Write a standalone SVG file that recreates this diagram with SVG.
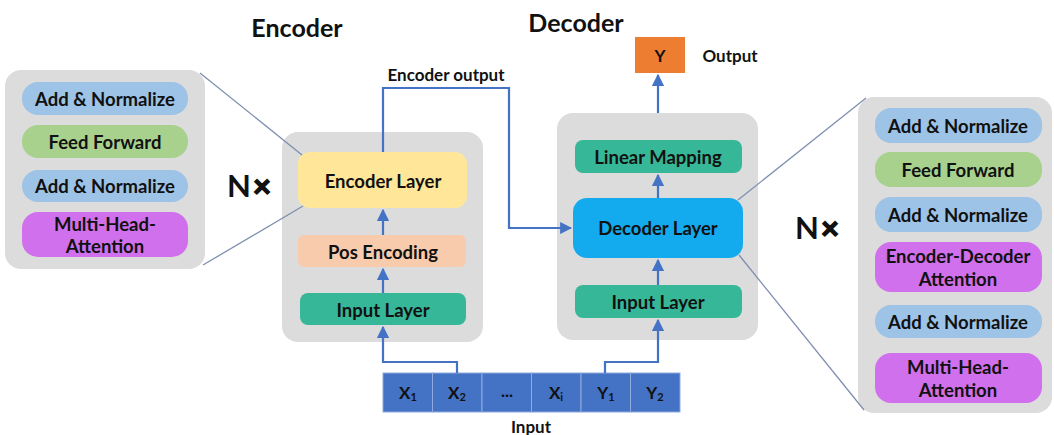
<svg xmlns="http://www.w3.org/2000/svg" width="1054" height="435" viewBox="0 0 1054 435">
<style>
text{font-family:Lato,"Open Sans","Liberation Sans",sans-serif;font-weight:bold;fill:#111111;text-anchor:middle;dominant-baseline:central}
.t{font-size:18.5px}
.h{font-size:25px}
.s{font-size:17px}
.nx{font-size:31px}
.x{stroke:#111111;stroke-width:1.6}
.panel{fill:#DCDCDC}
.an{fill:#9DC3E6}
.ff{fill:#A9D18E}
.mh{fill:#D170EC}
.il{fill:#36B898}
.cell{fill:#4472C4;stroke:#8FAADC;stroke-width:1}
.conn{fill:none;stroke:#4472C4;stroke-width:2.2}
.zoom{fill:none;stroke:#7F8FAF;stroke-width:1.3}
</style>
<defs>
<marker id="ah" viewBox="0 0 10 10" refX="9" refY="5" markerWidth="5.5" markerHeight="5.5" orient="auto">
<path d="M0,0 L10,5 L0,10 z" fill="#4472C4"/>
</marker>
</defs>
<rect width="1054" height="435" fill="#ffffff"/>

<text class="h" x="297" y="27">Encoder</text>
<text class="h" x="576" y="22">Decoder</text>

<g id="enc-detail">
<rect class="panel" x="5" y="70" width="200" height="199" rx="16"/>
<rect class="an" x="22" y="82" width="166" height="33" rx="16"/>
<text class="t" x="105" y="99">Add &amp; Normalize</text>
<rect class="ff" x="22" y="125" width="166" height="33" rx="16"/>
<text class="t" x="105" y="142">Feed Forward</text>
<rect class="an" x="22" y="170" width="166" height="32" rx="16"/>
<text class="t" x="105" y="186">Add &amp; Normalize</text>
<rect class="mh" x="22" y="212" width="166" height="45" rx="16"/>
<text class="t" x="105" y="224">Multi-Head-</text>
<text class="t" x="105" y="246">Attention</text>
</g>
<text id="enc-n" class="nx" x="249" y="185">N<tspan class="x" dx="2">×</tspan></text>

<g id="encoder">
<rect class="panel" x="282" y="132" width="201" height="210" rx="16"/>
<rect x="298" y="152" width="169" height="56" rx="12" fill="#FFE699"/>
<text class="t" x="383" y="181">Encoder Layer</text>
<rect x="298" y="235" width="168" height="32" rx="6" fill="#F8CBAD"/>
<text class="t" x="383" y="252">Pos Encoding</text>
<rect class="il" x="300" y="293" width="166" height="32" rx="8"/>
<text class="t" x="383" y="310">Input Layer</text>
</g>

<g id="decoder">
<rect class="panel" x="557" y="113" width="201" height="227" rx="16"/>
<rect class="il" x="575" y="140" width="167" height="33" rx="8"/>
<text class="t" x="658" y="157">Linear Mapping</text>
<rect x="573" y="198" width="170" height="60" rx="14" fill="#14AAEE"/>
<text class="t" x="658" y="228">Decoder Layer</text>
<rect class="il" x="575" y="285" width="167" height="33" rx="8"/>
<text class="t" x="658" y="302">Input Layer</text>
</g>

<g id="output">
<rect x="635" y="37" width="50" height="36" fill="#ED7D31"/>
<text class="s" x="660" y="55">Y</text>
<text class="s" x="730" y="55">Output</text>
</g>

<g id="dec-detail">
<rect class="panel" x="858" y="97" width="194" height="316" rx="16"/>
<rect class="an" x="875" y="108" width="167" height="35" rx="16"/>
<text class="t" x="958" y="126">Add &amp; Normalize</text>
<rect class="ff" x="875" y="152" width="167" height="35" rx="16"/>
<text class="t" x="958" y="170">Feed Forward</text>
<rect class="an" x="875" y="197" width="167" height="35" rx="16"/>
<text class="t" x="958" y="215">Add &amp; Normalize</text>
<rect class="mh" x="875" y="242" width="167" height="50" rx="16"/>
<text class="t" x="958" y="256">Encoder-Decoder</text>
<text class="t" x="958" y="279">Attention</text>
<rect class="an" x="875" y="305" width="167" height="33" rx="16"/>
<text class="t" x="958" y="322">Add &amp; Normalize</text>
<rect class="mh" x="875" y="353" width="167" height="50" rx="16"/>
<text class="t" x="958" y="367">Multi-Head-</text>
<text class="t" x="958" y="390">Attention</text>
</g>
<text id="dec-n" class="nx" x="817" y="227">N<tspan class="x" dx="2">×</tspan></text>

<g id="input">
<rect class="cell" x="383" y="373" width="49.5" height="39"/>
<rect class="cell" x="432.5" y="373" width="49.5" height="39"/>
<rect class="cell" x="482" y="373" width="49.5" height="39"/>
<rect class="cell" x="531.5" y="373" width="49.5" height="39"/>
<rect class="cell" x="581" y="373" width="49.5" height="39"/>
<rect class="cell" x="630.5" y="373" width="49.5" height="39"/>
<text class="s" x="408" y="392">X<tspan font-size="11" dy="4">1</tspan></text>
<text class="s" x="457" y="392">X<tspan font-size="11" dy="4">2</tspan></text>
<text class="s" x="507" y="390">...</text>
<text class="s" x="556" y="392">X<tspan font-size="11" dy="4">i</tspan></text>
<text class="s" x="606" y="392">Y<tspan font-size="11" dy="4">1</tspan></text>
<text class="s" x="655" y="392">Y<tspan font-size="11" dy="4">2</tspan></text>
<text class="s" x="531" y="426">Input</text>
</g>

<g id="connectors">
<polyline class="conn" points="457,373 457,362 383,362 383,327" marker-end="url(#ah)"/>
<polyline class="conn" points="605,373 605,362 658,362 658,320" marker-end="url(#ah)"/>
<line class="conn" x1="383" y1="293" x2="383" y2="269" marker-end="url(#ah)"/>
<line class="conn" x1="383" y1="235" x2="383" y2="210" marker-end="url(#ah)"/>
<polyline class="conn" points="383,152 383,88 509,88 509,228 571,228" marker-end="url(#ah)"/>
<line class="conn" x1="658" y1="285" x2="658" y2="260" marker-end="url(#ah)"/>
<line class="conn" x1="658" y1="198" x2="658" y2="175" marker-end="url(#ah)"/>
<line class="conn" x1="658" y1="113" x2="658" y2="75" marker-end="url(#ah)"/>
<line class="zoom" x1="200" y1="73" x2="302" y2="155"/>
<line class="zoom" x1="203" y1="265" x2="303" y2="206"/>
<line class="zoom" x1="738" y1="200" x2="866" y2="98"/>
<line class="zoom" x1="739" y1="255" x2="864" y2="410"/>
</g>
<text class="s" x="446" y="74">Encoder output</text>
</svg>
